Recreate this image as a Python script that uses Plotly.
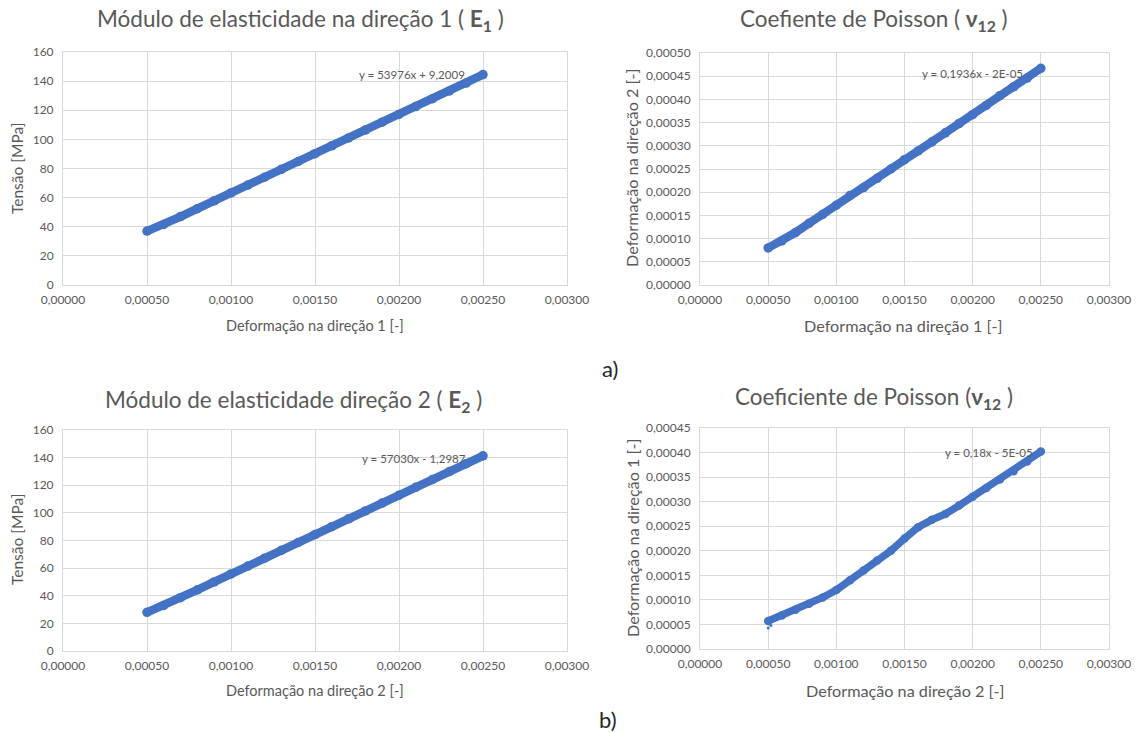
import plotly.graph_objects as go

W, H = 1141, 733

# ---- data ----
strain = [0.0005, 0.0006, 0.0007, 0.0008, 0.0009, 0.0010, 0.0011, 0.0012, 0.0013, 0.0014,
          0.0015, 0.0016, 0.0017, 0.0018, 0.0019, 0.0020, 0.0021, 0.0022, 0.0023, 0.0024, 0.0025]
stress_dir1 = [37.0, 41.6, 47.0, 52.4, 57.8, 63.2, 68.6, 74.0, 79.4, 84.8, 90.2,
               95.6, 101.0, 106.4, 111.8, 117.1, 122.5, 127.9, 133.3, 138.7, 144.5]
eps2_vs_eps1 = [0.000080, 0.000095, 0.000113, 0.000133, 0.000152, 0.000172, 0.000193,
                0.000210, 0.000230, 0.000250, 0.000270, 0.000289, 0.000308, 0.000328,
                0.000348, 0.000367, 0.000387, 0.000408, 0.000427, 0.000446, 0.000467]
stress_dir2 = [28.0, 33.0, 38.6, 44.3, 50.0, 55.8, 61.5, 67.2, 72.9, 78.6, 84.3,
               90.0, 95.7, 101.4, 107.1, 112.8, 118.5, 124.2, 129.9, 135.6, 141.3]
eps1_vs_eps2 = [0.000057, 0.000068, 0.000080, 0.000092, 0.000105, 0.000120, 0.000140,
                0.000160, 0.000180, 0.000200, 0.000225, 0.000248, 0.000263, 0.000275,
                0.000292, 0.000310, 0.000328, 0.000345, 0.000362, 0.000382, 0.000402]
stray_x = [0.0005, 0.00052]
stray_y = [0.000043, 0.000048]

titles = ["Módulo de elasticidade na direção 1 ( <b>E<sub>1</sub></b> )",
          "Coefiente de Poisson ( <b>ν<sub>12</sub></b> )",
          "Módulo de elasticidade direção 2 ( <b>E<sub>2</sub></b> )",
          "Coeficiente de Poisson (<b>ν<sub>12</sub></b> )"]
xtitles = ["Deformação na direção 1 [-]", "Deformação na direção 1 [-]",
           "Deformação na direção 2 [-]", "Deformação na direção 2 [-]"]
ytitles = ["Tensão [MPa]", "Deformação na direção 2 [-]",
           "Tensão [MPa]", "Deformação na direção 1 [-]"]
equations = ["y = 53976x + 9,2009", "y = 0,1936x - 2E-05",
             "y = 57030x - 1,2987", "y = 0,18x - 5E-05"]
x_ticks = [0, 0.0005, 0.001, 0.0015, 0.002, 0.0025, 0.003]
y_ticks_stress = [0, 20, 40, 60, 80, 100, 120, 140, 160]
y_ticks_p1 = [0, 0.00005, 0.0001, 0.00015, 0.0002, 0.00025, 0.0003, 0.00035, 0.0004, 0.00045, 0.0005]
y_ticks_p2 = [0, 0.00005, 0.0001, 0.00015, 0.0002, 0.00025, 0.0003, 0.00035, 0.0004, 0.00045]

ys = [stress_dir1, eps2_vs_eps1, stress_dir2, eps1_vs_eps2]

# ---- layout geometry (pixels) ----
boxes = [  # x0, x1, ytop, ybottom
    (63, 567, 52, 285),
    (700, 1109, 53, 285),
    (63, 567, 430, 651),
    (700, 1109, 428, 649),
]
yranges = [(0, 160), (0, 0.0005), (0, 160), (0, 0.00045)]
yformats = ["d", ".5f", "d", ".5f"]
yticks = [y_ticks_stress, y_ticks_p1, y_ticks_stress, y_ticks_p2]
title_pos = [(300, 20), (874, 20), (293, 401), (874, 398)]
xtitle_pos = [(315, 326), (903, 326), (315, 690), (905, 690)]
ytitle_pos = [(17, 169), (632, 168), (17, 540), (632, 538)]
xtitle_size = [14.5, 16.2, 14.5, 16.2]
ytitle_size = [15.5, 16.2, 15.5, 16.2]
eq_pos = [(412, 75), (972, 73), (414, 458), (989, 453)]

BLUE = "#4472C4"
GRAY = "#595959"
GRID = "#D9D9D9"
FONT = "Lato"

fig = go.Figure()
layout = dict(width=W, height=H, margin=dict(l=0, r=0, t=0, b=0, autoexpand=False),
              paper_bgcolor="white", plot_bgcolor="white", showlegend=False,
              separators=",.", font=dict(family=FONT, color=GRAY))
annotations = []

for i in range(4):
    n = "" if i == 0 else str(i + 1)
    x0, x1, yt, yb = boxes[i]
    layout["xaxis" + n] = dict(
        domain=[x0 / W, x1 / W], range=[0, 0.003], anchor="y" + n, automargin=False,
        tickvals=x_ticks, tickformat=".5f", showgrid=True, gridcolor=GRID, gridwidth=1,
        showline=True, linecolor=GRID, mirror=True, zeroline=False, ticks="",
        tickfont=dict(size=12, color=GRAY, family=FONT), ticklabelstandoff=4)
    layout["yaxis" + n] = dict(
        domain=[1 - yb / H, 1 - yt / H], range=list(yranges[i]), anchor="x" + n, automargin=False,
        tickvals=yticks[i], tickformat=yformats[i], showgrid=True, gridcolor=GRID, gridwidth=1,
        showline=True, linecolor=GRID, mirror=True, zeroline=False, ticks="",
        tickfont=dict(size=12, color=GRAY, family=FONT), ticklabelstandoff=6)
    fig.add_trace(go.Scatter(x=strain, y=ys[i], xaxis="x" + n, yaxis="y" + n,
                             mode="lines+markers",
                             line=dict(color=BLUE, width=8.5 if i != 3 else 7.5),
                             marker=dict(color=BLUE, size=9.5 if i != 3 else 8.5)))
    if i == 3:
        fig.add_trace(go.Scatter(x=stray_x, y=stray_y, xaxis="x4", yaxis="y4",
                                 mode="markers", marker=dict(color=BLUE, size=3)))
    tx, ty = title_pos[i]
    annotations.append(dict(text=titles[i], x=tx / W, y=1 - ty / H, xref="paper", yref="paper",
                            xanchor="center", yanchor="middle", showarrow=False,
                            font=dict(size=22.5, color=GRAY, family=FONT)))
    ax_, ay_ = xtitle_pos[i]
    annotations.append(dict(text=xtitles[i], x=ax_ / W, y=1 - ay_ / H, xref="paper", yref="paper",
                            xanchor="center", yanchor="middle", showarrow=False,
                            font=dict(size=xtitle_size[i], color=GRAY, family=FONT)))
    bx, by = ytitle_pos[i]
    annotations.append(dict(text=ytitles[i], x=bx / W, y=1 - by / H, xref="paper", yref="paper",
                            xanchor="center", yanchor="middle", showarrow=False, textangle=-90,
                            font=dict(size=ytitle_size[i], color=GRAY, family=FONT)))
    ex, ey = eq_pos[i]
    annotations.append(dict(text=equations[i], x=ex / W, y=1 - ey / H, xref="paper", yref="paper",
                            xanchor="center", yanchor="middle", showarrow=False,
                            font=dict(size=11.5, color=GRAY, family=FONT)))

annotations.append(dict(text="a)", x=610 / W, y=1 - 368 / H, xref="paper", yref="paper",
                        xanchor="center", yanchor="middle", showarrow=False,
                        font=dict(size=22, color="#262626", family=FONT)))
annotations.append(dict(text="b)", x=608 / W, y=1 - 719 / H, xref="paper", yref="paper",
                        xanchor="center", yanchor="middle", showarrow=False,
                        font=dict(size=22, color="#262626", family=FONT)))

layout["annotations"] = annotations
fig.update_layout(**layout)
fig.write_html("out.html")
